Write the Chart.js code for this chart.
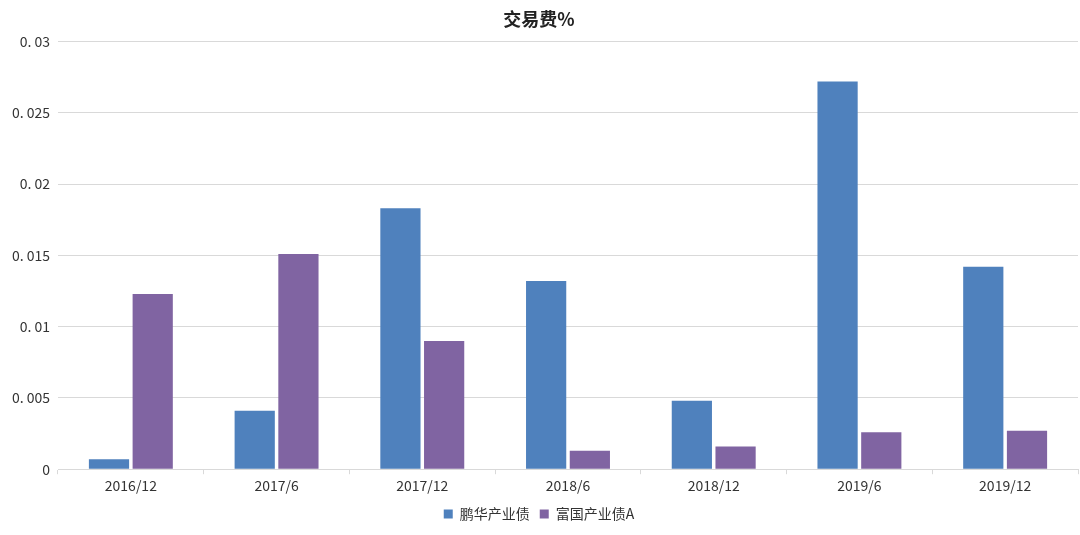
<!DOCTYPE html>
<html><head><meta charset="utf-8">
<script src="https://cdn.jsdelivr.net/npm/chart.js@4"></script>
<style>html,body{margin:0;padding:0;background:#fff}#w{width:1080px;height:535px}</style>
</head><body><div id="w"><canvas id="c"></canvas></div>
<script>
const categories = ["2016/12","2017/6","2017/12","2018/6","2018/12","2019/6","2019/12"];
const penghua = [0.0007,0.0041,0.0183,0.0132,0.0048,0.0272,0.0142];
const fuguo = [0.0123,0.0151,0.0090,0.0013,0.0016,0.0026,0.0027];
const seriesNames = ["鹏华产业债","富国产业债A"];
const F = "'Noto Sans CJK SC', sans-serif";
new Chart(document.getElementById('c'), {
  type: 'bar',
  data: { labels: categories, datasets: [
    {label: seriesNames[0], data: penghua, backgroundColor: '#4f81bd', categoryPercentage: 0.6, barPercentage: 0.92},
    {label: seriesNames[1], data: fuguo, backgroundColor: '#8064a2', categoryPercentage: 0.6, barPercentage: 0.92}
  ]},
  options: {
    animation: false, maintainAspectRatio: false, devicePixelRatio: 1,
    layout: {padding: {left: 0, right: 2, top: 0, bottom: 4}},
    plugins: {
      title: {display: true, text: '交易费%', font: {family: F, size: 18, weight: 'bold'}, color: '#222', padding: {top: 8, bottom: 12}},
      legend: {position: 'bottom', labels: {boxWidth: 9, boxHeight: 9, font: {family: F, size: 14}, color: '#333', padding: 10}},
      tooltip: {enabled: false}
    },
    scales: {
      x: {grid: {display: true, drawOnChartArea: false, tickLength: 5, color: '#d9d9d9', offset: true},
          border: {color: '#d9d9d9'},
          ticks: {font: {family: F, size: 14}, color: '#333'}},
      y: {min: 0, max: 0.03, afterFit: s => { s.width = 58; },
          grid: {color: '#d9d9d9', drawTicks: false}, border: {display: false},
          ticks: {stepSize: 0.005, padding: 8, font: {family: F, size: 14}, color: '#333',
            callback: v => v === 0 ? '0' : String(+v.toFixed(3)).replace('.', '. ')}}
    }
  }
});
</script></body></html>
